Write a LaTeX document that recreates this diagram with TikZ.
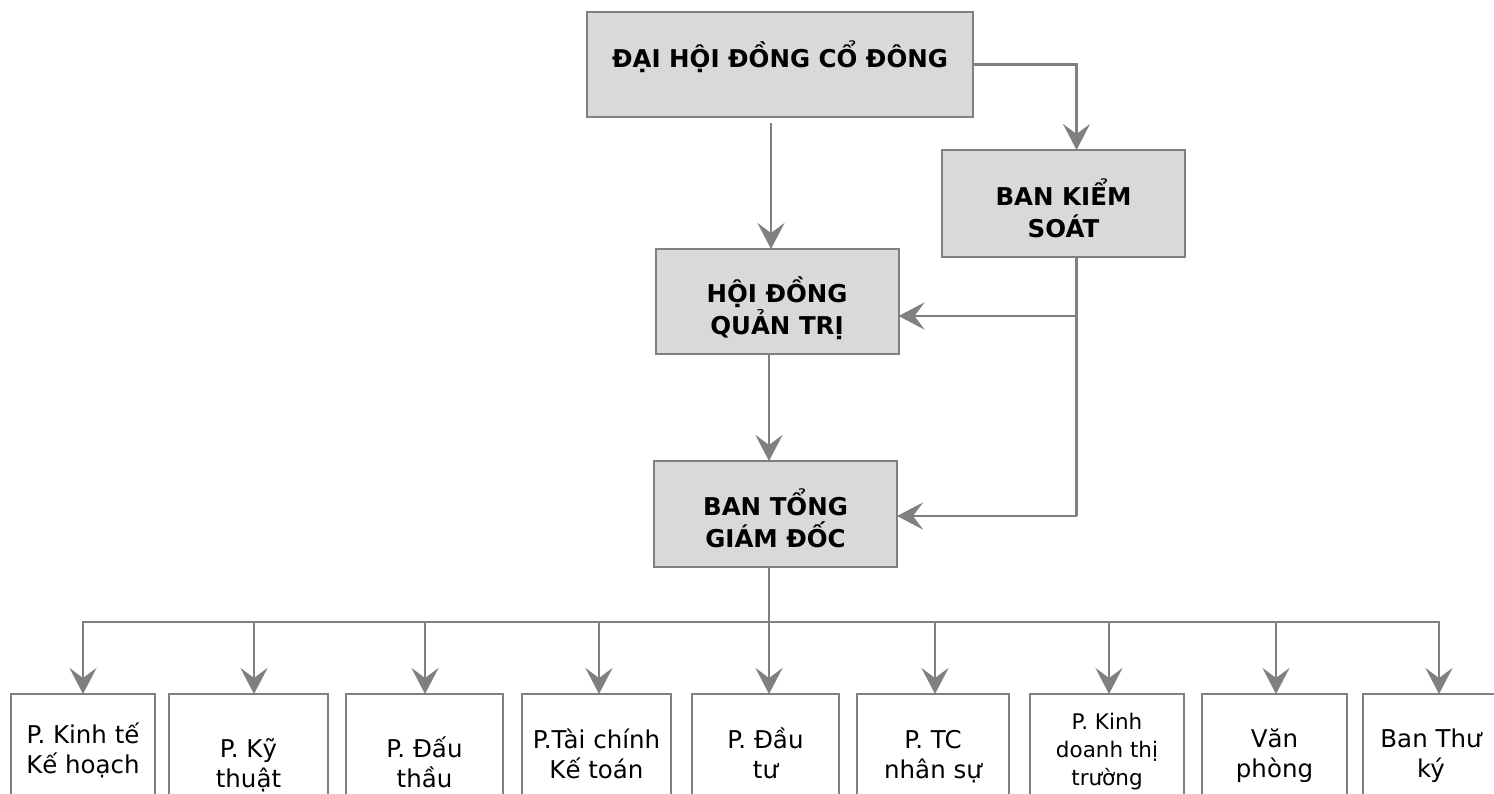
\documentclass[tikz,border=0pt]{standalone}
\usepackage{fontspec}
\setmainfont{DejaVu Sans}
\usetikzlibrary{arrows.meta}
\definecolor{lgray}{HTML}{D9D9D9}
\definecolor{lcol}{HTML}{808080}
\tikzset{
 topbox/.style={draw=lcol, line width=2pt, fill=lgray, inner sep=0pt, outer sep=0pt},
 subbox/.style={draw=lcol, line width=2pt, fill=white, inner sep=0pt, outer sep=0pt, anchor=north west, minimum height=140pt},
 btxt/.style={font=\fontsize{24.5}{32}\selectfont\bfseries, align=center, inner sep=0pt, anchor=base},
 rtxt/.style={font=\fontsize{24.5}{30}\selectfont, align=center, inner sep=0pt, anchor=base},
 stxt/.style={font=\fontsize{21.5}{28}\selectfont, align=center, inner sep=0pt, anchor=base},
 conn/.style={draw=lcol, line width=2.5pt},
 arr/.style={conn, -{Stealth[length=26pt,width=27pt,inset=10pt]}},
}
\begin{document}
\begin{tikzpicture}[x=1pt,y=-1pt]
\useasboundingbox (0,0) rectangle (1494,793);
\clip (0,0) rectangle (1494,793);
\fill[white] (0,0) rectangle (1494,793);

% upper boxes
\node[topbox, minimum width=386pt, minimum height=105pt] (dh) at (780,64.5) {};
\node[topbox, minimum width=243pt, minimum height=107pt] (bks) at (1063.5,203.5) {};
\node[topbox, minimum width=243pt, minimum height=105pt] (hd) at (777,301.5) {};
\node[topbox, minimum width=243pt, minimum height=106pt] (tgd) at (775.5,514) {};

\node[btxt] (dht) at (780,67) {ĐẠI HỘI ĐỒNG CỔ ĐÔNG};
\node[btxt] (bkst) at (1063.5,237) {BAN KIỂM\\SOÁT};
\node[btxt] (hdt) at (777,334) {HỘI ĐỒNG\\QUẢN TRỊ};
\node[btxt] (tgdt) at (775.5,547) {BAN TỔNG\\GIÁM ĐỐC};

% lower boxes
\node[subbox, minimum width=144pt] (b1) at (11,694) {};
\node[subbox, minimum width=159pt] (b2) at (169,694) {};
\node[subbox, minimum width=157pt] (b3) at (346,694) {};
\node[subbox, minimum width=149pt] (b4) at (522,694) {};
\node[subbox, minimum width=147pt] (b5) at (692,694) {};
\node[subbox, minimum width=152pt] (b6) at (857,694) {};
\node[subbox, minimum width=154pt] (b7) at (1030,694) {};
\node[subbox, minimum width=145pt] (b8) at (1202,694) {};
\node[subbox, minimum width=137pt] (b9) at (1363,694) {};

\node[rtxt] (t1) at (83,773) {P. Kinh tế\\Kế hoạch};
\node[rtxt] (t2) at (248.5,787) {P. Kỹ\\thuật};
\node[rtxt] (t3) at (424.5,787) {P. Đấu\\thầu};
\node[rtxt] (t4) at (596.5,778) {P.Tài chính\\Kế toán};
\node[rtxt] (t5) at (765.5,778) {P. Đầu\\tư};
\node[rtxt] (t6) at (933,778) {P. TC\\nhân sự};
\node[stxt] (t7) at (1107,785) {P. Kinh\\doanh thị\\trường};
\node[rtxt] (t8) at (1274.5,777) {Văn\\phòng};
\node[rtxt] (t9) at (1431,777) {Ban Thư\\ký};

% helper coordinates
\coordinate (xa) at (771,0);
\coordinate (xb) at (769,0);
\coordinate (xk) at (1076.5,0);
\coordinate (ya) at (0,316);
\coordinate (yb) at (0,516);
\coordinate (j1) at (83,622);
\coordinate (j2) at (254,622);
\coordinate (j3) at (425,622);
\coordinate (j4) at (599,622);
\coordinate (j5) at (769,622);
\coordinate (j6) at (935,622);
\coordinate (j7) at (1109,622);
\coordinate (j8) at (1276,622);
\coordinate (j9) at (1439,622);

% connectors
\draw[arr, shorten <=6pt] (dh.south -| xa) -- (hd.north -| xa);
\draw[arr] (dh.east) -| (bks.north -| xk);
\draw[conn] (bks.south -| xk) -- (xk |- yb);
\draw[arr] (xk |- ya) -- (hd.east |- ya);
\draw[arr] (xk |- yb) -- (tgd.east |- yb);
\draw[arr] (hd.south -| xb) -- (tgd.north -| xb);
\draw[conn] (tgd.south -| xb) -- (j5);
\draw[conn, line cap=rect] (j1) -- (j9);
\foreach \i in {1,...,9}{
  \draw[arr] (j\i) -- (j\i |- b\i.north);
}
\end{tikzpicture}
\end{document}
